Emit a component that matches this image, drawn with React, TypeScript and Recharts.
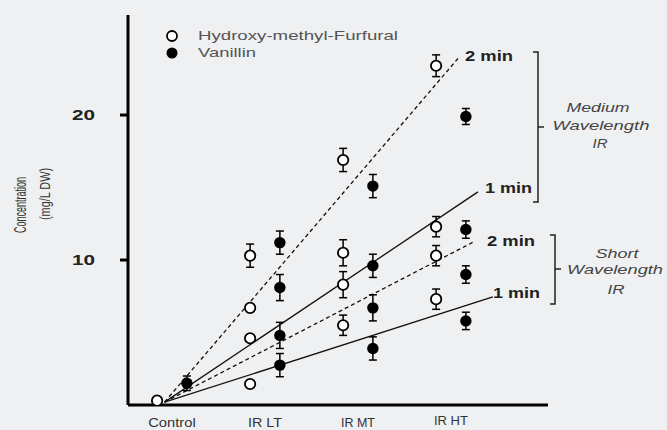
import { ComposedChart, Scatter, ErrorBar, XAxis, YAxis, ReferenceLine } from 'recharts';

const categories = ['Control', 'IR LT', 'IR MT', 'IR HT'];
const yTicks = [10, 20];

// per category, several treatments
const hmfValues = [[0.3], [10.3, 6.7, 4.6, 1.45], [16.9, 10.5, 8.3, 5.5], [23.4, 12.3, 10.3, 7.3]];
const hmfErrors = [[0], [0.8, 0, 0, 0], [0.8, 0.9, 0.9, 0.7], [0.75, 0.7, 0.7, 0.7]];
const vanillinValues = [[1.5], [11.2, 8.1, 4.8, 2.75], [15.1, 9.6, 6.7, 3.9], [19.9, 12.1, 9.0, 5.8]];
const vanillinErrors = [[0.5], [0.8, 0.9, 0.9, 0.8], [0.8, 0.8, 0.9, 0.8], [0.55, 0.6, 0.6, 0.6]];

// trend lines: start / end in data units
const trendLines = [
  { name: 'MW 2 min', from: [-0.08, 0.2], to: [3.075, 23.9], dashed: true },
  { name: 'MW 1 min', from: [-0.08, 0.2], to: [3.29, 14.7], dashed: false },
  { name: 'SW 2 min', from: [-0.08, 0.2], to: [3.24, 11.24], dashed: true },
  { name: 'SW 1 min', from: [-0.08, 0.2], to: [3.45, 7.45], dashed: false },
];

const FONT = '"Liberation Sans", Arial, sans-serif';

const toPoints = (values: number[][], errors: number[][], offset: number) =>
  values.flatMap((vals, i) => vals.map((v, j) => ({ x: i + offset, y: v, err: errors[i][j] })));

const hmfData = toPoints(hmfValues, hmfErrors, -0.16);
const vanillinData = toPoints(vanillinValues, vanillinErrors, 0.16);

const OpenDot = (props: any) => (
  <circle cx={props.cx} cy={props.cy} r={5.2} fill="#fff" stroke="#000" strokeWidth={1.8} />
);
const FilledDot = (props: any) => <circle cx={props.cx} cy={props.cy} r={5.7} fill="#000" />;

const YTick = ({ x, y, payload }: any) => (
  <text x={x} y={y} textAnchor="end" dominantBaseline="central" fontFamily={FONT} fontWeight="bold" fontSize={14} fill="#222" textLength={23} lengthAdjust="spacingAndGlyphs">
    {payload.value}
  </text>
);

const XTick = ({ x, payload }: any) => {
  const label = categories[payload.value];
  return (
    <text x={x} y={payload.value === 3 ? 425 : 427} textAnchor="middle" fontFamily={FONT} fontSize={13} fill="#333" textLength={label.length * 6.8} lengthAdjust="spacingAndGlyphs">
      {label}
    </text>
  );
};

export default function App() {
  return (
    <div style={{ position: 'absolute', left: 0, top: 0, width: 667, height: 430, background: '#eff0f2', overflow: 'hidden' }}>
      <ComposedChart width={667} height={430} margin={{ top: 15, right: 119, bottom: 0, left: 0 }}>
        <XAxis type="number" dataKey="x" domain={[-0.473, 4.043]} ticks={[0, 1, 2, 3]} tickLine={false} axisLine={{ stroke: '#000', strokeWidth: 3 }} tick={<XTick />} height={25} allowDataOverflow />
        <YAxis type="number" dataKey="y" domain={[0, 26.9]} ticks={yTicks} width={128} tickSize={8} tickMargin={25} tickLine={{ stroke: '#000', strokeWidth: 3 }} axisLine={{ stroke: '#000', strokeWidth: 3 }} tick={<YTick />} allowDataOverflow />
        {trendLines.map((l) => (
          <ReferenceLine key={l.name} segment={[{ x: l.from[0], y: l.from[1] }, { x: l.to[0], y: l.to[1] }]} stroke="#111" strokeWidth={1.3} strokeDasharray={l.dashed ? '4 3' : undefined} ifOverflow="visible" />
        ))}
        <Scatter name="Hydroxy-methyl-Furfural" data={hmfData} shape={<OpenDot />} isAnimationActive={false}>
          <ErrorBar dataKey="err" direction="y" width={4} stroke="#000" strokeWidth={1.5} />
        </Scatter>
        <Scatter name="Vanillin" data={vanillinData} shape={<FilledDot />} isAnimationActive={false}>
          <ErrorBar dataKey="err" direction="y" width={4} stroke="#000" strokeWidth={1.5} />
        </Scatter>
      </ComposedChart>
      <svg width={667} height={430} style={{ position: 'absolute', left: 0, top: 0, pointerEvents: 'none' }} fontFamily={FONT}>
        {/* y label */}
        <text transform="translate(20,205) rotate(-90)" textAnchor="middle" dominantBaseline="central" fontSize={16} fill="#333" textLength={56} lengthAdjust="spacingAndGlyphs">Concentration</text>
        <text transform="translate(44,194) rotate(-90)" textAnchor="middle" dominantBaseline="central" fontSize={15} fill="#333" textLength={52} lengthAdjust="spacingAndGlyphs">(mg/L DW)</text>
        {/* legend */}
        <circle cx={172} cy={36} r={5} fill="#fff" stroke="#000" strokeWidth={1.8} />
        <circle cx={172} cy={53} r={5.5} fill="#000" />
        <text x={198} y={40} fontSize={13} fill="#555" textLength={200} lengthAdjust="spacingAndGlyphs">Hydroxy-methyl-Furfural</text>
        <text x={198} y={57} fontSize={13} fill="#555" textLength={58} lengthAdjust="spacingAndGlyphs">Vanillin</text>
        {/* line labels */}
        <g fontWeight="bold" fontSize={14} fill="#222">
          <text x={465} y={61} textLength={48} lengthAdjust="spacingAndGlyphs">2 min</text>
          <text x={485} y={193} textLength={47} lengthAdjust="spacingAndGlyphs">1 min</text>
          <text x={487} y={246} textLength={48} lengthAdjust="spacingAndGlyphs">2 min</text>
          <text x={493} y={298} textLength={47} lengthAdjust="spacingAndGlyphs">1 min</text>
        </g>
        {/* brackets */}
        <g stroke="#222" strokeWidth={1.5} fill="none">
          <path d="M533,52 H538 V202 H533 M538,127 H544" />
          <path d="M550,235 H555 V304 H550 M555,269 H561" />
        </g>
        <g fontStyle="italic" fontSize={13} fill="#444" textAnchor="middle">
          <text x={598} y={112} textLength={63} lengthAdjust="spacingAndGlyphs">Medium</text>
          <text x={601} y={130} textLength={97} lengthAdjust="spacingAndGlyphs">Wavelength</text>
          <text x={600} y={148} textLength={15} lengthAdjust="spacingAndGlyphs">IR</text>
          <text x={617} y={258} textLength={43} lengthAdjust="spacingAndGlyphs">Short</text>
          <text x={615} y={274} textLength={96} lengthAdjust="spacingAndGlyphs">Wavelength</text>
          <text x={616} y={294} textLength={17} lengthAdjust="spacingAndGlyphs">IR</text>
        </g>
      </svg>
    </div>
  );
}
